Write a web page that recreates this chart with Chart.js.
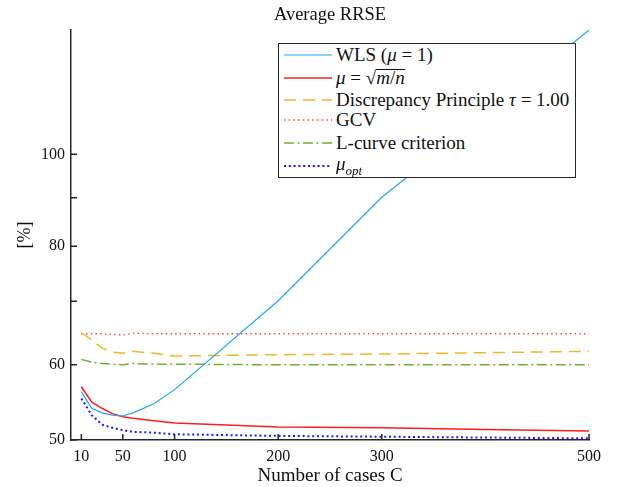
<!DOCTYPE html>
<html>
<head>
<meta charset="utf-8">
<script src="https://cdn.jsdelivr.net/npm/chart.js@4.4.0/dist/chart.umd.min.js"></script>
<style>
body { margin: 0; background: #fff; }
#wrap { position: relative; width: 618px; height: 487px; }
#legend { position: absolute; left: 278px; top: 43px; width: 296px; height: 133px; border: 1.5px solid #262626; background: #fff;
  font-family: "Liberation Serif", serif; font-size: 19px; color: #111; }
.row { position: absolute; left: 0; height: 22px; display: flex; align-items: center; white-space: nowrap; }
.row svg { margin-left: 5px; margin-right: 4px; }
.sq { display: inline-block; line-height: 15px; border-top: 1px solid #111; }
sub { font-size: 13px; }
</style>
</head>
<body>
<div id="wrap">
  <canvas id="rrse" width="618" height="487"></canvas>
  <div id="legend"></div>
</div>
<script>
// number of cases C
const cases = [10, 20, 30, 40, 50, 60, 80, 100, 200, 300, 400, 500];

// average RRSE [%] for each method
const wls      = [56.2, 54.0, 53.4, 53.1, 53.0, 53.4, 54.6, 56.5, 70.1, 90.1, 110.0, 135.2];
const muSqrt   = [56.9, 54.8, 54.0, 53.3, 52.9, 52.7, 52.4, 52.1, 51.6, 51.5, 51.3, 51.1];
const discrep  = [64.9, 63.7, 62.5, 61.9, 61.7, 62.0, 61.7, 61.3, 61.5, 61.6, 61.8, 62.0];
const gcv      = [64.7, 64.7, 64.7, 64.6, 64.5, 64.8, 64.7, 64.7, 64.7, 64.7, 64.7, 64.7];
const lcurve   = [60.8, 60.4, 60.2, 60.1, 60.0, 60.2, 60.1, 60.1, 60.0, 60.0, 60.0, 60.0];
const muOpt    = [55.3, 53.1, 51.9, 51.5, 51.2, 51.0, 50.9, 50.7, 50.5, 50.4, 50.3, 50.2];

// axis ticks
const xTicks = [10, 50, 100, 200, 300, 500];
const yTicks = [50, 60, 70, 80, 90, 100];
const yTickLabels = [50, 60, 80, 100];

const labels = ["WLS (μ = 1)", "μ = √(m/n)", "Discrepancy Principle τ = 1.00", "GCV", "L-curve criterion", "μopt"];
const legendHtml = [
  "WLS (<i>μ</i> = 1)",
  "<i>μ</i> = √<span class='sq'><i>m</i>/<i>n</i></span>",
  "Discrepancy Principle <i>τ</i> = 1.00",
  "GCV",
  "L-curve criterion",
  "<i>μ<sub>opt</sub></i>"
];
const rowCenters = [11, 34, 56, 76, 99, 122];

const pts = (ys) => cases.map((c, i) => ({x: c, y: ys[i]}));

const sets = [
  {data: wls,     color: "#22a4f2", width: 1.2, dash: []},
  {data: muSqrt,  color: "#ff1c1c", width: 1.5, dash: []},
  {data: discrep, color: "#efb62c", width: 1.5, dash: [12, 7]},
  {data: gcv,     color: "#ff4040", width: 1.3, dash: [1.5, 3.2]},
  {data: lcurve,  color: "#77ac30", width: 1.5, dash: [10, 3.5, 2, 3.5]},
  {data: muOpt,   color: "#1a1aff", width: 2,   dash: [2, 2.8]}
];

const datasets = sets.map((s, i) => ({
  label: labels[i],
  data: pts(s.data),
  borderColor: s.color,
  borderWidth: s.width,
  borderDash: s.dash,
  pointRadius: 0,
  tension: 0,
  fill: false
}));

// inward tick marks like the original figure
const inTicks = {
  id: "inTicks",
  afterDraw(chart) {
    const {ctx, chartArea} = chart;
    const xs = chart.scales.x, ys = chart.scales.y;
    ctx.save();
    ctx.strokeStyle = "#262626";
    ctx.lineWidth = 1.5;
    ctx.beginPath();
    xTicks.forEach(v => {
      const px = xs.getPixelForValue(v);
      ctx.moveTo(px, chartArea.bottom);
      ctx.lineTo(px, chartArea.bottom - 6);
    });
    yTicks.forEach(v => {
      const py = ys.getPixelForValue(v);
      ctx.moveTo(chartArea.left, py);
      ctx.lineTo(chartArea.left + 6, py);
    });
    ctx.stroke();
    ctx.restore();
  }
};

const font = "'Liberation Serif', serif";

new Chart(document.getElementById("rrse"), {
  type: "line",
  data: {datasets: datasets},
  options: {
    responsive: false,
    animation: false,
    layout: {padding: {left: 0, right: 29, top: 0, bottom: 0}},
    plugins: {
      legend: {display: false},
      tooltip: {enabled: false},
      title: {
        display: true,
        text: "Average RRSE",
        fullSize: false,
        color: "#111",
        font: {family: font, size: 18.5, weight: "normal"},
        padding: {top: 4, bottom: 3.8}
      }
    },
    scales: {
      x: {
        type: "linear",
        min: 0,
        max: 500,
        afterFit: (s) => { s.height = 47; },
        afterBuildTicks: (s) => { s.ticks = xTicks.map(v => ({value: v})); },
        grid: {display: false, drawTicks: false},
        border: {display: true, color: "#262626", width: 1.5},
        ticks: {color: "#111", padding: 7, maxRotation: 0, font: {family: font, size: 16}},
        title: {display: true, text: "Number of cases C", color: "#111", padding: {top: 0, bottom: 0},
                font: {family: font, size: 19}}
      },
      y: {
        type: "logarithmic",
        min: 50,
        max: 135.2,
        afterFit: (s) => { s.width = 71; },
        afterBuildTicks: (s) => { s.ticks = yTicks.map(v => ({value: v})); },
        grid: {display: false, drawTicks: false},
        border: {display: true, color: "#262626", width: 1.5},
        ticks: {
          color: "#111", padding: 6, font: {family: font, size: 16},
          callback: (v) => yTickLabels.includes(v) ? String(v) : ""
        },
        title: {display: true, text: "[%]", color: "#111", padding: {top: 14, bottom: 0},
                font: {family: font, size: 18}}
      }
    }
  },
  plugins: [inTicks]
});

// legend box drawn over the chart, top right
const legend = document.getElementById("legend");
sets.forEach((s, i) => {
  const row = document.createElement("div");
  row.className = "row";
  row.style.top = (rowCenters[i] - 11) + "px";
  row.innerHTML =
    '<svg width="48" height="6"><line x1="0" y1="3" x2="48" y2="3" stroke="' + s.color +
    '" stroke-width="' + s.width + '" stroke-dasharray="' + (s.dash.length ? s.dash.join(" ") : "none") +
    '"/></svg><span>' + legendHtml[i] + '</span>';
  legend.appendChild(row);
});
</script>
</body>
</html>
